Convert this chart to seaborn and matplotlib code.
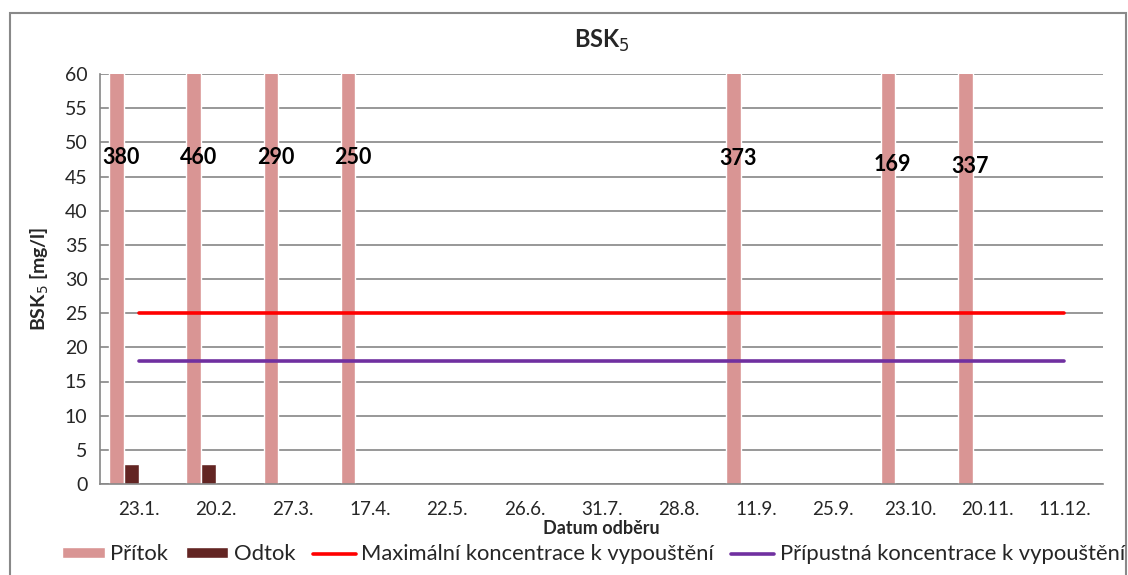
import numpy as np
import pandas as pd
import matplotlib
matplotlib.use("Agg")
import matplotlib.pyplot as plt
import seaborn as sns
from matplotlib.patches import Patch, Rectangle
from matplotlib.lines import Line2D

sns.set_style("white")
plt.rcParams["font.family"] = ["Lato", "DejaVu Sans"]

# Sampling dates
dates = ["23.1.", "20.2.", "27.3.", "17.4.", "22.5.", "26.6.", "31.7.",
         "28.8.", "11.9.", "25.9.", "23.10.", "20.11.", "11.12."]
# BSK5 inflow / outflow [mg/l]
pritok = [380, 460, 290, 250, np.nan, np.nan, np.nan, np.nan, 373, np.nan, 169, 337, np.nan]
odtok = [3, 3, np.nan, np.nan, np.nan, np.nan, np.nan, np.nan, np.nan, np.nan, np.nan, np.nan, np.nan]
# Discharge limits [mg/l]
max_limit = [25] * 13
pripustna = [18] * 13

series_names = ["Přítok", "Odtok",
                "Maximální koncentrace k vypouštění",
                "Přípustná koncentrace k vypouštění"]
colors = {"Přítok": "#D99594", "Odtok": "#632523",
          "Maximální koncentrace k vypouštění": "#FF0000",
          "Přípustná koncentrace k vypouštění": "#7030A0"}

bars = pd.DataFrame({
    "datum": dates * 4,
    "hodnota": pritok + odtok + [np.nan] * 13 + [np.nan] * 13,
    "rada": [s for s in series_names for _ in dates],
})

fig = plt.figure(figsize=(11.28, 5.75), dpi=100)
ax = fig.add_axes([100 / 1128, 1 - 484 / 575, 1003 / 1128, 410 / 575])

sns.barplot(data=bars, x="datum", y="hodnota", hue="rada", hue_order=series_names,
            order=dates, palette=colors, width=0.76, dodge=True, legend=False,
            saturation=1, errorbar=None, ax=ax)

xpos = np.arange(len(dates))
sns.lineplot(x=xpos, y=max_limit, color=colors[series_names[2]], linewidth=2.6, ax=ax)
sns.lineplot(x=xpos, y=pripustna, color=colors[series_names[3]], linewidth=2.6, ax=ax)

# value labels for inflow bars that exceed the axis range
label_y = {380: 47.8, 460: 47.8, 290: 47.8, 250: 47.8,
           373: 47.6, 169: 46.7, 337: 46.4}
pritok_vals = [v for v in pritok if not np.isnan(v)]
for rect, v in zip(ax.containers[0], pritok_vals):
    cx = rect.get_x() + rect.get_width() / 2 + 0.06
    ax.text(cx, label_y[int(v)], str(int(v)), ha="center", va="center",
            fontsize=15.5, fontweight="bold", color="black")

ax.set_ylim(0, 60)
ax.set_xlim(-0.5, len(dates) - 0.5)
ax.set_yticks(range(0, 61, 5))
ax.yaxis.grid(True, color="#868686", linewidth=1.2)
ax.set_axisbelow(True)
for s in ["top", "right"]:
    ax.spines[s].set_visible(False)
for s in ["left", "bottom"]:
    ax.spines[s].set_color("#868686")
    ax.spines[s].set_linewidth(1.2)
ax.tick_params(axis="y", length=5, color="#868686", width=1.2, labelsize=14, pad=4)
ax.tick_params(axis="x", length=0, labelsize=13.5, pad=12)

ax.set_xlabel("Datum odběru", fontsize=13, fontweight="bold", labelpad=2)
ax.set_ylabel("BSK$_5$ [mg/l]", fontsize=14, fontweight="bold", labelpad=10)
ax.set_title("BSK$_5$", fontsize=17, fontweight="bold", pad=19)

handles = [Patch(facecolor=colors[series_names[0]]),
           Patch(facecolor=colors[series_names[1]]),
           Line2D([], [], color=colors[series_names[2]], linewidth=2.6),
           Line2D([], [], color=colors[series_names[3]], linewidth=2.6)]
fig.legend(handles, series_names, loc="lower center", bbox_to_anchor=(0.526, -0.016),
           ncol=4, frameon=False, fontsize=15.8, handlelength=1.95, handleheight=0.4,
           handletextpad=0.25, columnspacing=0.8)

# chart area border
fig.add_artist(Rectangle((10 / 1128, -0.01), 1116 / 1128, 1 - 13 / 575 + 0.01,
                         transform=fig.transFigure, fill=False,
                         edgecolor="#898989", linewidth=1.5))

fig.savefig("out.png", dpi=100)
